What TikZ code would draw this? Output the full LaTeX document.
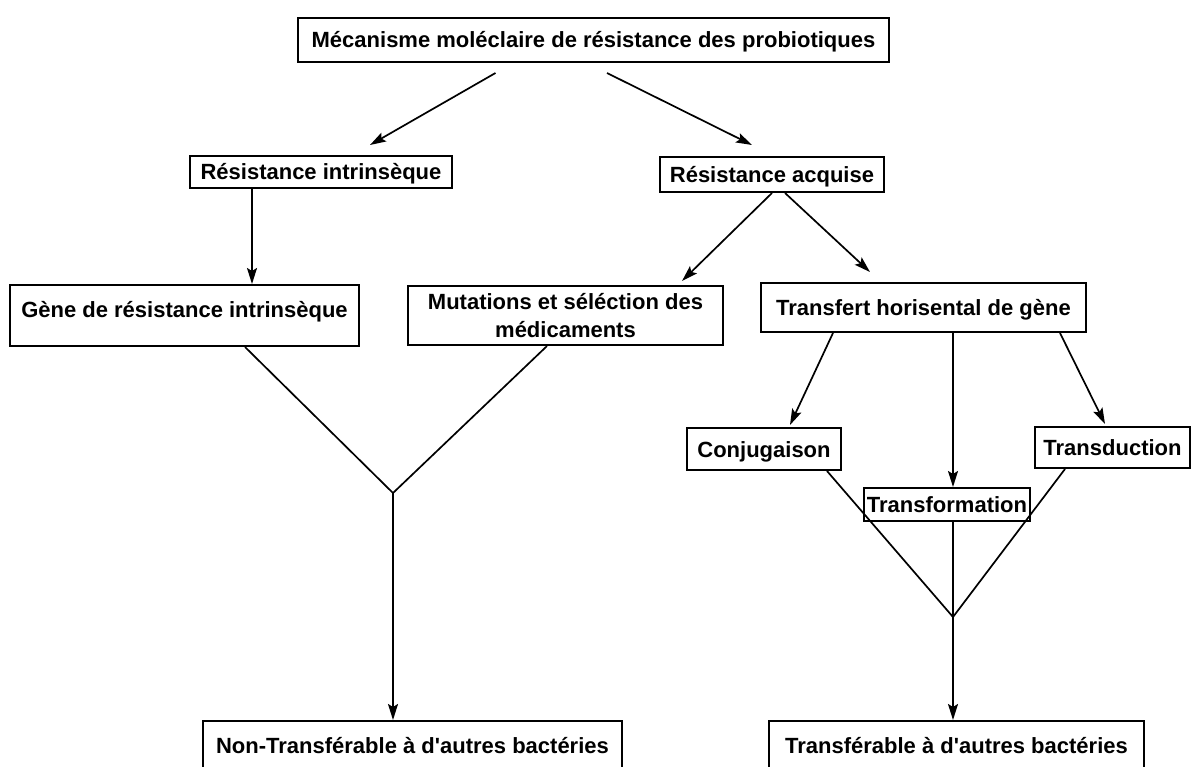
\documentclass[tikz,border=0pt]{standalone}
\usepackage{fontspec}
\setmainfont{Liberation Sans}
\usetikzlibrary{arrows.meta, calc}
\tikzset{
  every picture/.style={x=1pt, y=-1pt, line width=1.7pt},
  frame/.style={draw, line width=2pt, inner sep=0pt, font=\bfseries\fontsize{22}{28}\selectfont},
  box/.style={frame, text height=16pt, text depth=0pt},
  arrow/.style={-{Stealth[length=16pt, width=10pt, inset=3pt]}, line width=1.7pt},
  link/.style={line width=1.7pt},
}

\begin{document}
\begin{tikzpicture}
  \fill[white] (0,0) rectangle (1192,767);
  \useasboundingbox (0,0) rectangle (1192,767);

  \node[box, minimum width=591pt, minimum height=44pt] (mech) at (593.5,40) {Mécanisme moléclaire de résistance des probiotiques};
  \node[box, minimum width=262pt, minimum height=32pt] (intr) at (321,172) {Résistance intrinsèque};
  \node[box, minimum width=224pt, minimum height=35pt] (acq) at (772,174.5) {Résistance acquise};
  \node[box, text depth=12pt, minimum width=349pt, minimum height=61pt] (gene) at (184.5,315.5) {Gène de résistance intrinsèque};
  \node[frame, align=center, minimum width=315pt, minimum height=59pt] (mut) at (565.5,315.5) {Mutations et séléction des\\médicaments};
  \node[box, minimum width=325pt, minimum height=49pt] (htg) at (923.5,307.5) {Transfert horisental de gène};
  \node[box, minimum width=154pt, minimum height=42pt] (conj) at (764,449) {Conjugaison};
  \node[box, minimum width=166pt, minimum height=33pt] (transf) at (947,504.5) {Transformation};
  \node[box, minimum width=155pt, minimum height=41pt] (transd) at (1112.5,447.5) {Transduction};
  \node[box, anchor=north, text height=32pt, text depth=48pt, minimum width=419pt] (nontr) at (412.5,720) {Non-Transférable à d\textquotesingle autres bactéries};
  \node[box, anchor=north, text height=32pt, text depth=48pt, minimum width=375pt] (trans) at (956.5,720) {Transférable à d\textquotesingle autres bactéries};

  % branches
  \draw[arrow] ($(mech.south)+(-98,10)$) -- ($(intr.north)+(49,-10)$);
  \draw[arrow] ($(mech.south)+(13.5,10)$) -- ($(acq.north)+(-20,-11)$);
  \draw[arrow] ($(intr.south)+(-69,0)$) -- ($(gene.north)+(67.5,0)$);
  \draw[arrow] (acq.south) -- ($(mut.north)+(116.5,-4)$);
  \draw[arrow] ($(acq.south)+(13,0)$) -- ($(htg.north)+(-53.5,-10)$);
  \draw[arrow] ($(htg.south)+(-90.5,0)$) -- ($(conj.north)+(26,-2)$);
  \draw[arrow] ($(htg.south)+(29.5,0)$) -- ($(transf.north)+(6,0)$);
  \draw[arrow] ($(htg.south)+(136.5,0)$) -- ($(transd.north)+(-7.5,-2)$);

  % merging
  \coordinate (jl) at (393,493);
  \coordinate (jr) at (953,617);
  \draw[link] ($(gene.south)+(60.5,0)$) -- (jl) -- ($(mut.south)+(-18.5,0)$);
  \draw[arrow] (jl) -- (jl |- nontr.north);
  \draw[link] ($(conj.south)+(63,0)$) -- (jr) -- ($(transd.south)+(-47.5,0)$);
  \draw[link] ($(transf.south)+(6,0)$) -- (jr);
  \draw[arrow] (jr) -- (jr |- trans.north);
\end{tikzpicture}
\end{document}
